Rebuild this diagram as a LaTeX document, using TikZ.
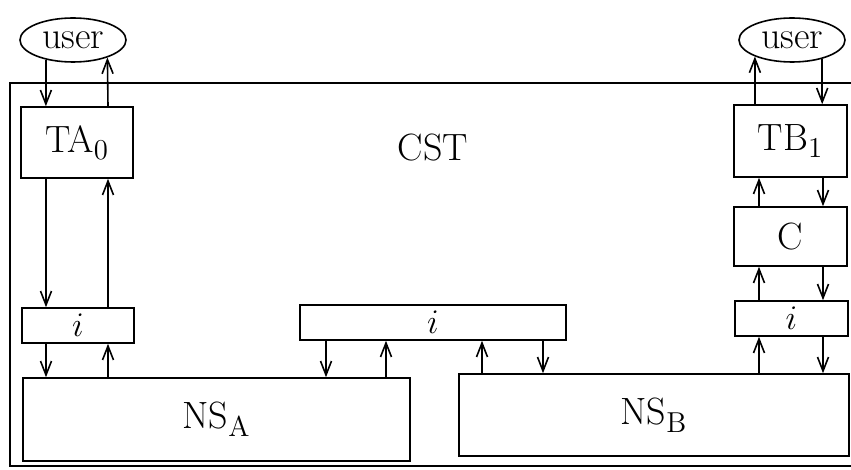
\documentclass[tikz,border=0pt]{standalone}
\usepackage{tikz}
\usetikzlibrary{shapes.geometric, positioning, calc, arrows.meta}

\begin{document}
\begin{tikzpicture}[x=0.5pt, y=-0.5pt, line width=0.8pt,
    blk/.style={draw, rectangle, inner sep=0pt, font=\fontsize{19}{22}\selectfont},
    usr/.style={draw, ellipse, inner sep=1pt, minimum width=53pt, minimum height=22pt, font=\fontsize{19}{22}\selectfont},
    flow/.style={-{Straight Barb[length=7pt, width=5.5pt]}}]

    \useasboundingbox (0,0) rectangle (851,470);

    % Outer CST frame (runs off the right edge)
    \draw (10,83) rectangle (856,466);
    \node[font=\fontsize{19}{22}\selectfont] (cst) at (433,148) {CST};

    % Users on top of the two terminals
    \node[usr] (userA) at (73,40) {user};
    \node[usr] (userB) at (792,40) {user};

    % Left column: terminal TA0 and its interface
    \node[blk, minimum width=56pt, minimum height=35.5pt] (TA) at (77,142.5) {TA$_0$};
    \node[blk, minimum width=56pt, minimum height=17.5pt] (iL) at (78,325.5) {$i$};

    % Middle interface between the two name servers
    \node[blk, minimum width=133pt, minimum height=17.5pt] (iM) at (433,322.5) {$i$};

    % Right column: terminal TB1, C and its interface
    \node[blk, minimum width=56.5pt, minimum height=36pt] (TB) at (790.5,141) {TB$_1$};
    \node[blk, minimum width=56.5pt, minimum height=29.5pt] (C) at (790.5,236.5) {C};
    \node[blk, minimum width=56.5pt, minimum height=17.5pt] (iR) at (791.5,318.5) {$i$};

    % Name servers along the bottom
    \node[blk, minimum width=193.5pt, minimum height=41.5pt] (NSA) at (216.5,419.5) {NS$_{\mathrm{A}}$};
    \node[blk, minimum width=195pt, minimum height=41pt] (NSB) at (654,415) {NS$_{\mathrm{B}}$};

    % Lanes of the vertical arrows
    \coordinate (la) at (46,0);
    \coordinate (lb) at (108,0);
    \coordinate (lc) at (326,0);
    \coordinate (ld) at (386,0);
    \coordinate (le) at (482,0);
    \coordinate (lf) at (543,0);
    \coordinate (lg) at (759,0);
    \coordinate (lh) at (823,0);

    % Left column arrows
    \draw[flow] (userA.216) -- (userA.216 |- TA.north);
    \draw[flow] (TA.north -| lb) -- (userA.333);
    \draw[flow] (TA.south -| la) -- (iL.north -| la);
    \draw[flow] (iL.north -| lb) -- (TA.south -| lb);
    \draw[flow] (iL.south -| la) -- (NSA.north -| la);
    \draw[flow] (NSA.north -| lb) -- (iL.south -| lb);

    % Middle arrows
    \draw[flow] (iM.south -| lc) -- (NSA.north -| lc);
    \draw[flow] (NSA.north -| ld) -- (iM.south -| ld);
    \draw[flow] (NSB.north -| le) -- (iM.south -| le);
    \draw[flow] (iM.south -| lf) -- (NSB.north -| lf);

    % Right column arrows
    \draw[flow] (NSB.north -| lg) -- (iR.south -| lg);
    \draw[flow] (iR.south -| lh) -- (NSB.north -| lh);
    \draw[flow] (iR.north -| lg) -- (C.south -| lg);
    \draw[flow] (C.south -| lh) -- (iR.north -| lh);
    \draw[flow] (C.north -| lg) -- (TB.south -| lg);
    \draw[flow] (TB.south -| lh) -- (C.north -| lh);
    \draw[flow] (TB.north -| userB.204) -- (userB.204);
    \draw[flow] (userB.328) -- (userB.328 |- TB.north);

\end{tikzpicture}
\end{document}
